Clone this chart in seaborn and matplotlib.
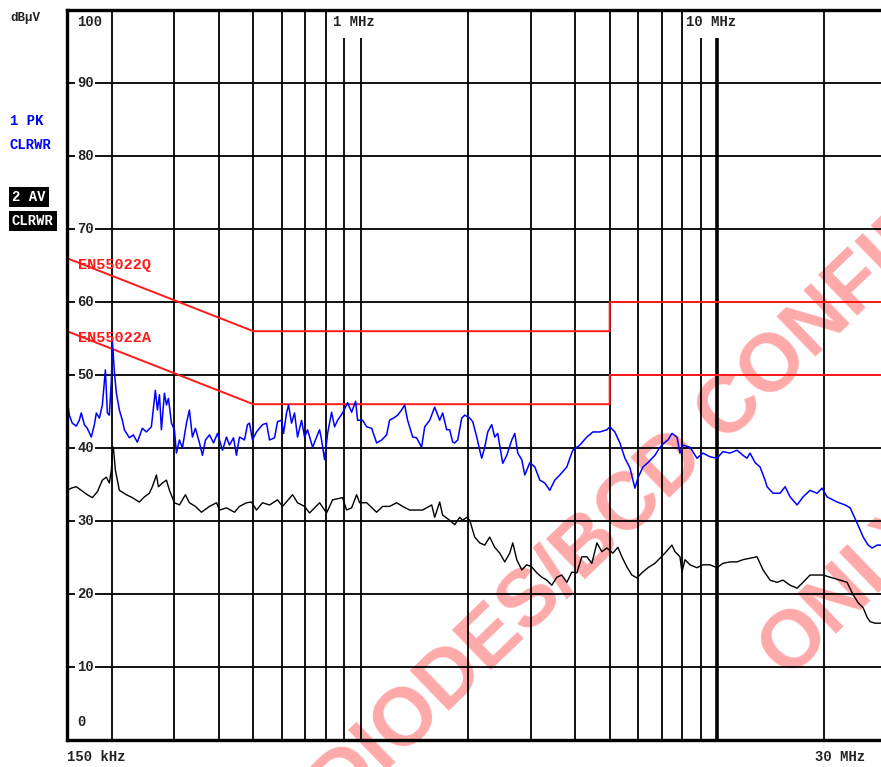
import numpy as np
import matplotlib
matplotlib.use("Agg")
import matplotlib.pyplot as plt
import matplotlib.transforms as mtransforms
from matplotlib.patches import Rectangle
from matplotlib.ticker import FixedLocator, NullFormatter
from matplotlib.font_manager import FontProperties
import pandas as pd
import seaborn as sns

# ---------------- data (frequency in MHz, level in dBuV) ----------------
pk_freq = [0.1503, 0.1523, 0.1552, 0.1593, 0.1624, 0.1645, 0.1678, 0.1710, 0.1755, 0.1790,
           0.1813, 0.1849, 0.1885, 0.1922, 0.1947, 0.1972, 0.1998, 0.2011, 0.2037, 0.2064,
           0.2104, 0.2145, 0.2173, 0.2244, 0.2303, 0.2363, 0.2441, 0.2505, 0.2587, 0.2655,
           0.2690, 0.2726, 0.2761, 0.2815, 0.2852, 0.2889, 0.2946, 0.3003, 0.3042, 0.3102,
           0.3162, 0.3245, 0.3308, 0.3373, 0.3439, 0.3530, 0.3599, 0.3670, 0.3767, 0.3866,
           0.3967, 0.4097, 0.4204, 0.4286, 0.4398, 0.4484, 0.4572, 0.4722, 0.4815, 0.4877,
           0.4972, 0.5103, 0.5305, 0.5445, 0.5552, 0.5734, 0.5846, 0.6000, 0.6077, 0.6196,
           0.6277, 0.6400, 0.6525, 0.6653, 0.6827, 0.6962, 0.7098, 0.7332, 0.7524, 0.7672,
           0.7772, 0.7924, 0.8080, 0.8290, 0.8453, 0.8617, 0.8901, 0.9194, 0.9435, 0.9683,
           0.9808, 1.013, 1.040, 1.074, 1.109, 1.146, 1.183, 1.206, 1.246, 1.270,
           1.303, 1.329, 1.355, 1.400, 1.436, 1.483, 1.513, 1.563, 1.614, 1.667,
           1.699, 1.744, 1.778, 1.813, 1.837, 1.873, 1.922, 1.960, 2.024, 2.064,
           2.118, 2.159, 2.187, 2.230, 2.274, 2.333, 2.378, 2.425, 2.505, 2.571,
           2.656, 2.708, 2.761, 2.833, 2.889, 2.984, 3.082, 3.183, 3.287, 3.395,
           3.507, 3.622, 3.790, 3.865, 3.940, 4.123, 4.314, 4.485, 4.693, 4.909,
           5.006, 5.170, 5.340, 5.516, 5.697, 5.885, 6.000, 6.197, 6.402, 6.697,
           6.918, 7.145, 7.286, 7.476, 7.722, 7.874, 8.028, 8.399, 8.787, 9.135,
           9.557, 10.0, 10.39, 10.88, 11.38, 11.83, 12.14, 12.38, 12.79, 13.21,
           13.64, 13.82, 14.37, 15.03, 15.53, 16.04, 16.78, 17.44, 18.25, 19.09,
           19.72, 20.37, 21.73, 22.88, 23.64, 24.74, 25.72, 26.56, 27.26, 28.15,
           28.70, 30.0]
pk_level = [46.6, 44.5, 43.4, 43.0, 43.8, 44.8, 43.2, 42.7, 41.5, 43.2,
            44.8, 44.1, 45.9, 50.7, 44.8, 44.5, 49.3, 54.8, 50.4, 47.5,
            45.2, 43.8, 42.5, 41.4, 41.8, 40.8, 42.7, 42.2, 42.9, 47.9,
            45.2, 47.3, 42.5, 47.5, 45.9, 46.8, 43.4, 42.5, 39.3, 41.1,
            40.0, 43.4, 45.2, 41.5, 42.7, 40.7, 39.0, 41.1, 41.8, 40.7,
            42.0, 39.7, 41.5, 40.4, 41.4, 39.0, 41.5, 41.1, 43.2, 43.4,
            41.1, 42.2, 43.2, 43.4, 41.1, 41.4, 43.6, 43.8, 42.0, 44.8,
            45.9, 43.4, 44.8, 41.5, 43.8, 41.5, 42.5, 40.1, 41.5, 42.5,
            41.1, 38.4, 42.0, 44.9, 42.9, 43.8, 44.8, 46.2, 44.9, 46.4,
            43.8, 43.8, 42.9, 42.7, 40.7, 41.1, 41.8, 43.8, 44.2, 44.5,
            45.2, 45.9, 43.8, 41.5, 41.4, 40.1, 42.9, 43.8, 45.6, 43.8,
            44.8, 42.5, 42.5, 40.8, 40.7, 41.1, 44.1, 44.5, 44.1, 43.6,
            41.5, 39.7, 38.6, 40.1, 42.2, 43.2, 41.5, 42.0, 37.9, 39.0,
            41.1, 42.0, 39.3, 38.4, 36.3, 38.0, 37.4, 35.6, 35.2, 34.2,
            35.6, 36.3, 37.4, 38.6, 39.7, 40.4, 41.5, 42.2, 42.2, 42.5,
            42.9, 42.2, 40.7, 38.6, 37.3, 34.5, 35.9, 37.4, 38.0, 39.0,
            40.1, 40.8, 41.1, 42.0, 41.5, 39.3, 40.4, 40.1, 38.6, 39.3,
            38.8, 38.6, 39.5, 39.3, 39.7, 39.0, 38.6, 39.3, 38.0, 37.4,
            35.6, 34.7, 33.8, 33.8, 34.7, 33.3, 32.2, 33.3, 34.2, 33.8,
            34.5, 33.3, 32.6, 32.2, 31.8, 29.7, 27.8, 26.7, 26.3, 26.7,
            26.7, 26.4]

av_freq = [0.1503, 0.1542, 0.1593, 0.1645, 0.1710, 0.1767, 0.1825, 0.1885, 0.1934, 0.1972,
           0.1998, 0.2011, 0.2024, 0.2050, 0.2077, 0.2104, 0.2201, 0.2288, 0.2393, 0.2473,
           0.2554, 0.2604, 0.2673, 0.2708, 0.2779, 0.2852, 0.2908, 0.3003, 0.3102, 0.3224,
           0.3308, 0.3439, 0.3576, 0.3767, 0.3942, 0.4018, 0.4204, 0.4427, 0.4572, 0.4784,
           0.4940, 0.5103, 0.5305, 0.5552, 0.5846, 0.6038, 0.6442, 0.6653, 0.6962, 0.7190,
           0.7672, 0.8028, 0.8344, 0.8901, 0.9135, 0.9435, 0.9745, 0.9935, 1.040, 1.109,
           1.153, 1.206, 1.262, 1.312, 1.373, 1.436, 1.493, 1.583, 1.614, 1.667,
           1.699, 1.778, 1.837, 1.897, 1.934, 1.986, 2.024, 2.090, 2.159, 2.230,
           2.303, 2.378, 2.457, 2.538, 2.621, 2.673, 2.743, 2.833, 2.926, 3.023,
           3.122, 3.225, 3.330, 3.439, 3.553, 3.670, 3.790, 3.915, 4.044, 4.177,
           4.314, 4.456, 4.603, 4.753, 4.909, 5.104, 5.272, 5.410, 5.588, 5.771,
           5.962, 6.157, 6.402, 6.697, 6.918, 7.145, 7.380, 7.476, 7.623, 7.874,
           7.976, 8.132, 8.399, 8.787, 9.135, 9.557, 10.0, 10.39, 10.88, 11.38,
           11.83, 12.38, 12.95, 13.47, 14.09, 14.74, 15.32, 16.04, 16.78, 17.44,
           18.25, 19.09, 19.86, 20.77, 22.16, 23.18, 24.10, 24.90, 25.72, 26.39,
           26.91, 27.79, 28.70, 30.0]
av_level = [34.2, 34.5, 34.7, 34.2, 33.6, 33.2, 34.0, 35.6, 36.0, 35.2,
            37.0, 39.3, 40.1, 37.0, 35.6, 34.2, 33.6, 33.2, 32.6, 33.3,
            33.8, 34.7, 36.3, 34.7, 35.2, 35.6, 34.2, 32.5, 32.2, 33.6,
            32.5, 32.0, 31.2, 32.0, 32.5, 31.5, 31.8, 31.2, 32.0, 32.5,
            32.6, 31.5, 32.5, 32.2, 32.9, 32.0, 33.6, 32.5, 32.0, 31.1,
            32.5, 31.1, 32.9, 33.2, 31.5, 31.8, 33.6, 32.5, 32.5, 31.2,
            32.0, 32.0, 32.5, 32.0, 31.5, 31.5, 31.5, 32.2, 30.5, 32.6,
            30.8, 30.1, 29.5, 30.5, 30.1, 30.5, 30.1, 27.8, 27.0, 26.7,
            27.8, 26.4, 25.6, 24.4, 25.6, 27.0, 24.7, 23.3, 24.0, 23.7,
            22.9, 22.3, 21.9, 21.2, 22.3, 22.6, 21.6, 23.0, 22.9, 25.1,
            25.1, 24.2, 27.0, 25.8, 26.3, 25.6, 26.4, 25.1, 23.7, 22.6,
            22.2, 22.9, 23.6, 24.2, 24.9, 25.6, 26.4, 26.7, 25.8, 25.1,
            23.0, 24.7, 24.0, 23.6, 24.0, 24.0, 23.6, 24.2, 24.4, 24.4,
            24.7, 24.9, 25.1, 23.3, 21.9, 21.6, 21.9, 21.2, 20.8, 21.6,
            22.6, 22.6, 22.6, 22.3, 21.9, 21.6, 19.9, 18.8, 18.1, 16.8,
            16.2, 16.0, 16.0, 16.2]

limq_freq = [0.15, 0.5, 5.0, 5.0, 30.0]
limq_level = [66, 56, 56, 60, 60]
lima_freq = [0.15, 0.5, 5.0, 5.0, 30.0]
lima_level = [56, 46, 46, 50, 50]

y_tick_values = [10, 20, 30, 40, 50, 60, 70, 80, 90]
x_grid_minor = [0.2, 0.3, 0.4, 0.5, 0.6, 0.7, 0.8, 0.9, 1, 2, 3, 4, 5, 6, 7, 8, 9, 20]
x_grid_major = [10]

# ---------------- figure ----------------
sns.set_style("white")
plt.rcParams['font.family'] = ['Liberation Mono', 'DejaVu Sans Mono']

W, H = 881, 767
fig = plt.figure(figsize=(W / 100, H / 100), dpi=100)
fig.patch.set_facecolor('white')
ax = fig.add_axes([67 / W, 27 / H, 820 / W, 730 / H])
ax.set_facecolor('none')
ax.set_xscale('log')
ax.set_xlim(0.15, 30)
ax.set_ylim(0, 100)

# grid
ax.xaxis.set_major_locator(FixedLocator(x_grid_major))
ax.xaxis.set_minor_locator(FixedLocator(x_grid_minor))
ax.yaxis.set_major_locator(FixedLocator(y_tick_values))
ax.yaxis.set_minor_locator(FixedLocator([]))
for a in (ax.xaxis, ax.yaxis):
    a.set_major_formatter(NullFormatter())
    a.set_minor_formatter(NullFormatter())
ax.tick_params(which='both', length=0)
ax.set_axisbelow(True)
ax.grid(which='major', axis='x', color='black', lw=2.6)
ax.grid(which='minor', axis='x', color='black', lw=1.3)
ax.grid(which='major', axis='y', color='black', lw=1.3)
for s in ax.spines.values():
    s.set_color('black')
    s.set_linewidth(2.4)

# limit lines
df_q = pd.DataFrame({'f': limq_freq, 'v': limq_level})
df_a = pd.DataFrame({'f': lima_freq, 'v': lima_level})
sns.lineplot(data=df_q, x='f', y='v', ax=ax, color='#ff1a1a', lw=1.4, sort=False, estimator=None)
sns.lineplot(data=df_a, x='f', y='v', ax=ax, color='#ff1a1a', lw=1.4, sort=False, estimator=None)

# traces
df_pk = pd.DataFrame({'f': pk_freq, 'v': pk_level})
df_av = pd.DataFrame({'f': av_freq, 'v': av_level})
sns.lineplot(data=df_av, x='f', y='v', ax=ax, color='black', lw=1.0, sort=False, estimator=None)
sns.lineplot(data=df_pk, x='f', y='v', ax=ax, color='#0000ff', lw=1.1, sort=False, estimator=None)
ax.set_xlabel('')
ax.set_ylabel('')

txt_kw = dict(fontsize=10, fontweight='bold', color='#222222')
blend = mtransforms.blended_transform_factory(ax.transAxes, ax.transData)

# y tick labels inside the plot
for v in y_tick_values:
    ax.text(0.0122, v, str(v), transform=blend, ha='left', va='center',
            bbox=dict(fc='white', ec='none', pad=1.2), zorder=3, **txt_kw)
ax.text(0.0122, 98.4, '100', transform=blend, ha='left', va='center', zorder=3, **txt_kw)
ax.text(0.0122, 2.5, '0', transform=blend, ha='left', va='center', zorder=3, **txt_kw)

# top frequency labels
ax.add_patch(Rectangle((0.3215, 0.9616), 0.0744, 0.0384, transform=ax.transAxes,
                       fc='white', ec='none', zorder=1.9))
ax.text(0.3244, 0.9836, '1 MHz', transform=ax.transAxes, ha='left', va='center', zorder=3, **txt_kw)
ax.add_patch(Rectangle((0.7537, 0.9616), 0.0817, 0.0384, transform=ax.transAxes,
                       fc='white', ec='none', zorder=1.9))
ax.text(0.7549, 0.9836, '10 MHz', transform=ax.transAxes, ha='left', va='center', zorder=3, **txt_kw)

# limit labels
ax.text(0.0134, 65.1, 'EN55022Q', transform=blend, ha='left', va='center',
        fontsize=11, fontweight='bold', color='#ff1a1a', zorder=3)
ax.text(0.0134, 55.1, 'EN55022A', transform=blend, ha='left', va='center',
        fontsize=11, fontweight='bold', color='#ff1a1a', zorder=3)

# bottom labels
fig.text(67 / W, 1 - 757 / H, '150 kHz', ha='left', va='center', **txt_kw)
fig.text(815 / W, 1 - 757 / H, '30 MHz', ha='left', va='center', **txt_kw)

# left side legend texts
fig.text(10 / W, 1 - 18 / H, 'dBµV', ha='left', va='center', fontsize=9, fontweight='bold', color='#222222')
fig.text(10 / W, 1 - 121 / H, '1 PK', ha='left', va='center', fontsize=10, fontweight='bold', color='#0000ff')
fig.text(10 / W, 1 - 145 / H, 'CLRWR', ha='left', va='center', fontsize=10, fontweight='bold', color='#0000ff')
fig.text(12 / W, 1 - 197 / H, '2 AV', ha='left', va='center', fontsize=10, fontweight='bold', color='white',
         bbox=dict(fc='black', ec='none', pad=2.5))
fig.text(12 / W, 1 - 221 / H, 'CLRWR', ha='left', va='center', fontsize=10, fontweight='bold', color='white',
         bbox=dict(fc='black', ec='none', pad=2.5))

# ---------------- watermark (laid out from measured glyph advances) ----------------
wm_line1 = 'DIODES/BCD CONFIDENTIAL'
wm_line2 = 'ONLY'
wm_angle = 44
renderer = fig.canvas.get_renderer()
ref_fp = FontProperties(family='Liberation Sans', weight='bold', size=100)


def adv(s, fp):
    return renderer.get_text_width_height_descent(s, fp, ismath=False)[0] if s else 0.0


def center_of(s, i, fp):
    return adv(s[:i], fp) + adv(s[i], fp) / 2.0


# scale font so that the 'D' (idx 3) -> 'N' (idx 13) spacing matches the reference
span100 = center_of(wm_line1, 13, ref_fp) - center_of(wm_line1, 3, ref_fp)
wm_size = 100 * 510.0 / span100
fp = FontProperties(family='Liberation Sans', weight='bold', size=wm_size)
ang = np.deg2rad(wm_angle)
u = np.array([np.cos(ang), np.sin(ang)])


def place(text, idx, target_px):
    tx, ty = target_px[0], H - target_px[1]
    d = center_of(text, idx, fp)
    sx, sy = tx - d * u[0], ty - d * u[1]
    fig.text(sx / W, sy / H, text, rotation=wm_angle, rotation_mode='anchor', ha='left', va='center',
             fontproperties=fp, color='#ffaaaa', zorder=-1)


place(wm_line1, 11, (731, 409))
place(wm_line2, 0, (795, 641))

fig.savefig('out.png', dpi=100, facecolor='white')
